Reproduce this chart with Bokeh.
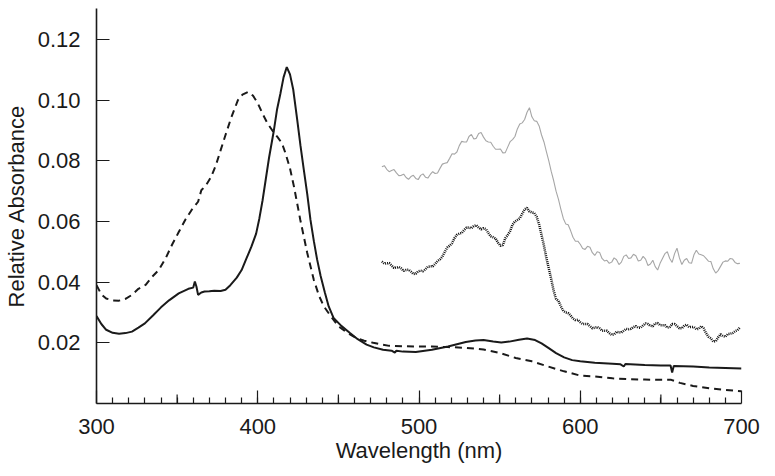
from bokeh.plotting import figure
from bokeh.models import Range1d, FixedTicker, PrintfTickFormatter
from bokeh.embed import file_html
from bokeh.resources import INLINE

# ---------------- data ----------------
solid_wl = [300, 303, 306, 310, 314, 318, 322, 326, 330, 335, 340, 345, 351, 357, 360, 361, 362, 363,
            365, 367, 370, 373, 377, 380, 383, 387, 390, 393, 396, 399, 401, 403, 405, 407, 410, 412,
            414, 416, 418, 420, 422, 424.5, 426.5, 428.6, 430.7, 432.7, 434.8, 436.8, 439, 441.7, 444,
            447, 452, 457, 462, 467.5, 472, 477.7, 483, 485, 486, 490, 498, 508, 518, 529, 535, 540,
            546, 551, 556, 562, 567, 572, 576, 580, 585, 590, 595, 600, 609, 620, 625, 627, 628, 640,
            650, 656, 657, 658, 670, 680, 690, 700]
solid_val = [0.0288, 0.0262, 0.0243, 0.0233, 0.0230, 0.0232, 0.0237, 0.0250, 0.0264, 0.0290, 0.0317,
             0.0340, 0.0363, 0.0378, 0.0382, 0.0402, 0.0385, 0.0358, 0.0366, 0.0369, 0.0370, 0.0372,
             0.0371, 0.0375, 0.0390, 0.0415, 0.0440, 0.0478, 0.0516, 0.0560, 0.0610, 0.0670, 0.0740,
             0.0810, 0.0900, 0.0970, 0.1020, 0.1075, 0.1109, 0.1085, 0.1035, 0.0934, 0.0850, 0.0769,
             0.0690, 0.0605, 0.0535, 0.0475, 0.0420, 0.0364, 0.0320, 0.0282, 0.0255, 0.0233, 0.0212,
             0.0194, 0.0185, 0.0177, 0.0174, 0.0168, 0.0174, 0.0171, 0.0170, 0.0177, 0.0188, 0.0203,
             0.0208, 0.0209, 0.0204, 0.0201, 0.0204, 0.0210, 0.0214, 0.0209, 0.0198, 0.0184, 0.0166,
             0.0152, 0.0143, 0.0139, 0.0134, 0.0131, 0.0129, 0.0122, 0.0130, 0.0127, 0.0125, 0.0125,
             0.0102, 0.0124, 0.0122, 0.0119, 0.0117, 0.0115]

dashed_wl = [300, 303, 306, 310, 314, 318, 322, 326, 330.5, 334.4, 338.6, 343, 347, 351, 355, 359, 363,
             365, 368, 371, 374, 377, 380, 383.4, 387.7, 390.5, 393.9, 397, 400, 403, 406, 410.2, 412.3,
             415, 417.2, 420, 422.5, 426.4, 430.7, 434.8, 438, 441, 445, 450, 455, 461, 466, 471.6,
             481.6, 490, 498, 508, 518, 527, 535, 540, 550, 560, 570, 580, 590, 600, 609, 620, 630, 640,
             649.5, 656.4, 661.8, 670, 680, 690, 700]
dashed_val = [0.0390, 0.0360, 0.0346, 0.0340, 0.0339, 0.0345, 0.0358, 0.0378, 0.0391, 0.0417, 0.0440,
              0.0480, 0.0525, 0.0565, 0.0605, 0.0638, 0.0665, 0.0703, 0.0720, 0.0746, 0.0785, 0.0835,
              0.0885, 0.0940, 0.1000, 0.1018, 0.1027, 0.1015, 0.0990, 0.0955, 0.0924, 0.0891, 0.0878,
              0.0858, 0.0825, 0.0775, 0.0714, 0.0605, 0.0496, 0.0407, 0.0355, 0.0320, 0.0290, 0.0255,
              0.0235, 0.0216, 0.0207, 0.0200, 0.0190, 0.0189, 0.0188, 0.0188, 0.0186, 0.0184, 0.0181,
              0.0178, 0.0167, 0.0150, 0.0139, 0.0122, 0.0106, 0.0092, 0.0089, 0.0083, 0.0080, 0.0079,
              0.0078, 0.0078, 0.0068, 0.0058, 0.0050, 0.0045, 0.0040]

# noisy spectra, sampled every 1.5 nm from 477 nm to 699 nm
gray_val = [0.0780, 0.0784, 0.0772, 0.0764, 0.0768, 0.0771, 0.0760, 0.0751, 0.0752, 0.0756,
            0.0745, 0.0739, 0.0748, 0.0752, 0.0742, 0.0738, 0.0752, 0.0757, 0.0746, 0.0743,
            0.0755, 0.0764, 0.0758, 0.0760, 0.0775, 0.0789, 0.0792, 0.0794, 0.0808, 0.0823,
            0.0822, 0.0829, 0.0850, 0.0864, 0.0862, 0.0862, 0.0880, 0.0887, 0.0872, 0.0874,
            0.0890, 0.0893, 0.0878, 0.0866, 0.0862, 0.0861, 0.0848, 0.0838, 0.0838, 0.0839,
            0.0826, 0.0827, 0.0845, 0.0863, 0.0870, 0.0880, 0.0905, 0.0921, 0.0925, 0.0936,
            0.0960, 0.0975, 0.0945, 0.0932, 0.0930, 0.0915, 0.0885, 0.0862, 0.0830, 0.0800,
            0.0765, 0.0735, 0.0700, 0.0673, 0.0640, 0.0610, 0.0592, 0.0589, 0.0570, 0.0548,
            0.0535, 0.0535, 0.0525, 0.0511, 0.0508, 0.0518, 0.0515, 0.0497, 0.0488, 0.0500,
            0.0498, 0.0478, 0.0470, 0.0472, 0.0462, 0.0466, 0.0480, 0.0474, 0.0458, 0.0466,
            0.0485, 0.0490, 0.0478, 0.0480, 0.0492, 0.0487, 0.0470, 0.0472, 0.0485, 0.0476,
            0.0455, 0.0460, 0.0472, 0.0451, 0.0440, 0.0462, 0.0478, 0.0494, 0.0500, 0.0478,
            0.0465, 0.0494, 0.0512, 0.0480, 0.0458, 0.0472, 0.0478, 0.0464, 0.0462, 0.0490,
            0.0505, 0.0493, 0.0490, 0.0487, 0.0478, 0.0469, 0.0468, 0.0444, 0.0430, 0.0438,
            0.0452, 0.0466, 0.0470, 0.0469, 0.0478, 0.0476, 0.0465, 0.0461, 0.0462]
dotted_val = [0.0468, 0.0461, 0.0462, 0.0463, 0.0455, 0.0447, 0.0448, 0.0450, 0.0445, 0.0437,
              0.0440, 0.0441, 0.0435, 0.0427, 0.0428, 0.0436, 0.0438, 0.0436, 0.0442, 0.0451,
              0.0452, 0.0452, 0.0460, 0.0470, 0.0475, 0.0484, 0.0500, 0.0514, 0.0520, 0.0528,
              0.0545, 0.0556, 0.0560, 0.0562, 0.0572, 0.0580, 0.0580, 0.0578, 0.0585, 0.0588,
              0.0580, 0.0574, 0.0578, 0.0575, 0.0562, 0.0551, 0.0548, 0.0544, 0.0530, 0.0520,
              0.0522, 0.0545, 0.0555, 0.0568, 0.0590, 0.0600, 0.0605, 0.0610, 0.0625, 0.0640,
              0.0645, 0.0633, 0.0630, 0.0628, 0.0615, 0.0590, 0.0555, 0.0520, 0.0480, 0.0445,
              0.0410, 0.0372, 0.0345, 0.0338, 0.0320, 0.0305, 0.0300, 0.0298, 0.0290, 0.0280,
              0.0275, 0.0276, 0.0268, 0.0262, 0.0262, 0.0262, 0.0255, 0.0248, 0.0250, 0.0252,
              0.0248, 0.0240, 0.0240, 0.0240, 0.0232, 0.0226, 0.0228, 0.0236, 0.0235, 0.0234,
              0.0240, 0.0246, 0.0245, 0.0246, 0.0252, 0.0255, 0.0250, 0.0250, 0.0258, 0.0264,
              0.0262, 0.0256, 0.0255, 0.0264, 0.0265, 0.0258, 0.0258, 0.0258, 0.0250, 0.0252,
              0.0262, 0.0262, 0.0255, 0.0248, 0.0248, 0.0257, 0.0260, 0.0252, 0.0252, 0.0252,
              0.0245, 0.0246, 0.0255, 0.0248, 0.0232, 0.0220, 0.0215, 0.0204, 0.0205, 0.0218,
              0.0228, 0.0222, 0.0220, 0.0229, 0.0230, 0.0232, 0.0238, 0.0242, 0.0250]
noisy_wl = [477 + 1.5 * i for i in range(len(gray_val))]

x_major = [300, 400, 500, 600, 700]
x_mid = [350, 450, 550, 650]
y_major = [0.02, 0.04, 0.06, 0.08, 0.10, 0.12]

FONT = "Liberation Sans"
INK = "#1a1a1a"

p = figure(width=760, height=473, output_backend="svg", toolbar_location=None,
           x_range=Range1d(300, 700), y_range=Range1d(0.0, 0.1302),
           min_border_left=89, min_border_right=19, min_border_top=8, min_border_bottom=70)
p.outline_line_color = None
p.xgrid.grid_line_color = None
p.ygrid.grid_line_color = None
p.background_fill_color = "white"
p.border_fill_color = "white"

# curves
p.line(noisy_wl, gray_val, line_color="#a6a6a6", line_width=1.1)
p.line(noisy_wl, dotted_val, line_color="#111111", line_width=2.5, line_dash="1 1")
p.line(dashed_wl, dashed_val, line_color=INK, line_width=2, line_dash="7 5")
p.line(solid_wl, solid_val, line_color=INK, line_width=2)

# mid-length ticks at the 50 nm marks
y0 = p.y_range.start
p.segment(x0=x_mid, y0=[y0] * len(x_mid), x1=x_mid, y1=[y0 + 0.003] * len(x_mid),
          line_color=INK, line_width=1.2)

xa = p.xaxis[0]
xa.ticker = FixedTicker(ticks=x_major, minor_ticks=list(range(310, 700, 10)))
xa.axis_label = "Wavelength (nm)"
ya = p.yaxis[0]
ya.ticker = FixedTicker(ticks=y_major, minor_ticks=[])
ya.formatter = PrintfTickFormatter(format="%.2f")
ya.axis_label = "Relative Absorbance"

for ax in (xa, ya):
    ax.axis_line_color = INK
    ax.axis_line_width = 1.6
    ax.major_tick_line_color = INK
    ax.major_tick_line_width = 1.2
    ax.minor_tick_line_color = INK
    ax.minor_tick_line_width = 1.2
    ax.major_tick_in = 13
    ax.major_tick_out = 0
    ax.minor_tick_in = 6
    ax.minor_tick_out = 0
    ax.major_label_text_font = FONT
    ax.major_label_text_font_size = "22px"
    ax.major_label_text_color = INK
    ax.axis_label_text_font = FONT
    ax.axis_label_text_font_size = "22px"
    ax.axis_label_text_font_style = "normal"
    ax.axis_label_text_color = INK

xa.major_label_standoff = 15
xa.axis_label_standoff = 1
ya.major_label_standoff = 16
ya.axis_label_standoff = 6

open("out.html", "w").write(file_html(p, INLINE))
